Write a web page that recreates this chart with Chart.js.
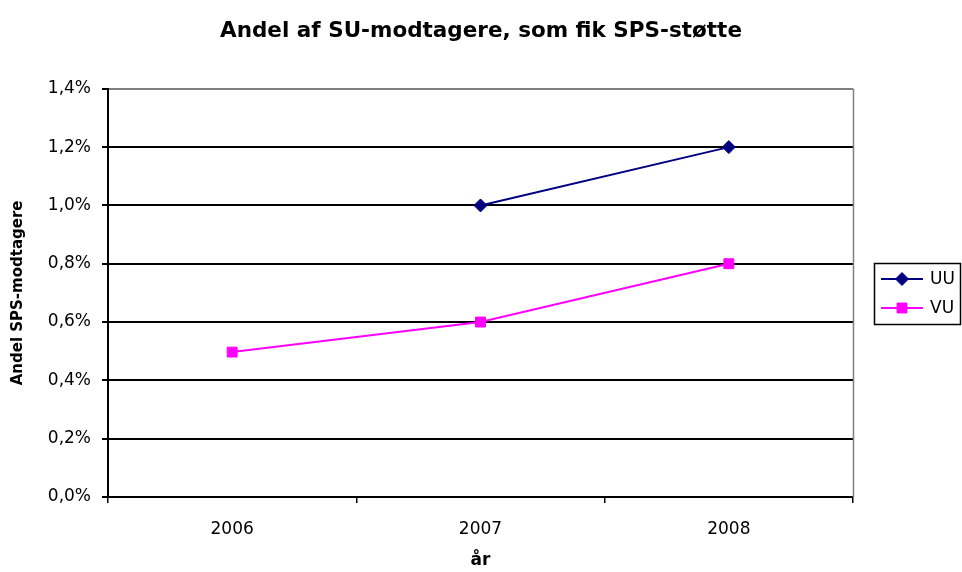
<!DOCTYPE html>
<html><head><meta charset="utf-8">
<script src="https://cdn.jsdelivr.net/npm/chart.js@4"></script>
<style>html,body{margin:0;padding:0;background:#fff}#wrap{width:962px;height:572px;position:relative}</style>
</head><body><div id="wrap"><canvas id="c" width="962" height="572"></canvas></div>
<script>
const categories = ['2006', '2007', '2008'];
const uuValues = [null, 1.0, 1.2];
const vuValues = [0.497, 0.6, 0.8];
const yTickValues = [0, 0.2, 0.4, 0.6, 0.8, 1.0, 1.2, 1.4];
const seriesNames = ['UU', 'VU'];
const titleText = 'Andel af SU-modtagere, som fik SPS-støtte';
const yTitle = 'Andel SPS-modtagere';
const xTitle = 'år';

const FONT = "'DejaVu Sans', sans-serif";
const NAVY = '#000080';
const MAGENTA = '#FF00FF';

const frameAndLegend = {
  id: 'frameAndLegend',
  beforeDatasetsDraw(chart) {
    const {ctx, chartArea: a} = chart;
    ctx.save();
    ctx.strokeStyle = '#808080';
    ctx.lineWidth = 1.5;
    ctx.beginPath();
    ctx.moveTo(Math.round(a.right) + 0.5, a.top);
    ctx.lineTo(Math.round(a.right) + 0.5, a.bottom);
    ctx.stroke();
    ctx.restore();
  },
  afterDraw(chart) {
    const {ctx, chartArea: a} = chart;
    const left = a.right + 21, w = 86, h = 61;
    const top = Math.round((a.top + a.bottom) / 2 - h / 2 + 0.5);
    ctx.save();
    ctx.strokeStyle = '#000';
    ctx.lineWidth = 1.5;
    ctx.strokeRect(left + 0.5, top + 0.5, w, h);
    chart.data.datasets.forEach((ds, i) => {
      const y = top + 16 + i * 29;
      ctx.strokeStyle = ds.borderColor;
      ctx.lineWidth = 2;
      ctx.beginPath();
      ctx.moveTo(left + 7, y);
      ctx.lineTo(left + 49, y);
      ctx.stroke();
      ctx.fillStyle = ds.backgroundColor;
      ctx.strokeStyle = ds.borderColor;
      ctx.lineWidth = 1;
      Chart.helpers.drawPoint(ctx, {pointStyle: ds.pointStyle, radius: ds.pointRadius, borderWidth: 1, rotation: 0}, left + 28, y);
      ctx.fillStyle = '#000';
      ctx.font = "17px " + FONT;
      ctx.textBaseline = 'middle';
      ctx.textAlign = 'left';
      ctx.fillText(ds.label, left + 56, y + 1);
    });
    ctx.restore();
  }
};

new Chart(document.getElementById('c'), {
  type: 'line',
  data: {
    labels: categories,
    datasets: [
      {label: seriesNames[0], data: uuValues, borderColor: NAVY, backgroundColor: NAVY,
       borderWidth: 2, pointStyle: 'rectRot', pointRadius: 6.5, pointBorderWidth: 1, spanGaps: false},
      {label: seriesNames[1], data: vuValues, borderColor: MAGENTA, backgroundColor: MAGENTA,
       borderWidth: 2, pointStyle: 'rect', pointRadius: 7, pointBorderWidth: 1}
    ]
  },
  options: {
    responsive: false,
    animation: false,
    layout: {padding: 0},
    plugins: {
      legend: {display: false},
      tooltip: {enabled: false},
      title: {display: true, text: titleText, color: '#000',
        font: {family: FONT, size: 21.5, weight: 'bold'},
        padding: {top: 19, bottom: 44}}
    },
    scales: {
      x: {
        offset: true,
        grid: {offset: true, drawOnChartArea: false, drawTicks: true, tickLength: 6, tickColor: '#000', lineWidth: 1.5},
        border: {display: true, color: '#000', width: 2},
        ticks: {color: '#000', font: {family: FONT, size: 17}, padding: 16, maxRotation: 0},
        title: {display: true, text: xTitle, color: '#000', font: {family: FONT, size: 17, weight: 'bold'}, padding: {top: 0, bottom: 1}},
        afterFit(s) { s.height = 75; }
      },
      y: {
        min: 0, max: 1.4,
        afterBuildTicks(s) { s.ticks = yTickValues.map(v => ({value: v})); },
        grid: {color: (c) => (c.tick && c.tick.value === 1.4) ? '#808080' : '#000', lineWidth: 2, tickLength: 6, tickColor: '#000'},
        border: {display: true, color: '#000', width: 2},
        ticks: {color: '#000', font: {family: FONT, size: 17}, padding: 11,
          callback: (v) => Number(v).toFixed(1).replace('.', ',') + '%'},
        title: {display: true, text: yTitle, color: '#000', font: {family: FONT, size: 15, weight: 'bold'}, padding: {top: 9, bottom: 0}},
        afterFit(s) { s.width = 108; }
      },
      legendSpace: {
        type: 'linear', position: 'right', display: true,
        grid: {display: false, drawTicks: false}, border: {display: false},
        ticks: {display: false},
        afterFit(s) { s.width = 109; }
      }
    }
  },
  plugins: [frameAndLegend]
});
</script>
</body></html>
